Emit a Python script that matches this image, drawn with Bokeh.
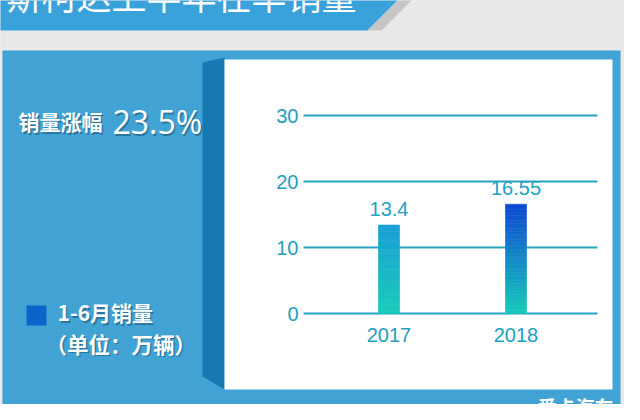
from bokeh.plotting import figure
from bokeh.models import Range1d, FixedTicker, BoxAnnotation, PolyAnnotation, Label, LinearAxis
from bokeh.core.properties import value
from bokeh.embed import file_html
from bokeh.resources import INLINE

# ---- data ----
years = ["2017", "2018"]
sales = [13.4, 16.55]
y_ticks = [0, 10, 20, 30]
title_text = "斯柯达上半年在华销量"
growth_label = "销量涨幅"
growth_value = "23.5%"
legend_label = "1-6月销量"
unit_label = "（单位：万辆）"
brand = "爱卡汽车"

# ---- layout (page pixels) ----
W, H = 624, 404
OFF = 8
FL, FR, FT, FB = OFF, OFF + W, OFF, OFF + H   # frame covers the whole figure
Y0 = 321        # page y of value 0
PXU = 6.6       # px per unit of value
X0 = 396.5      # page x of first year
PXX = 127.0     # px per year
GL, GR = 311, 605   # chart gridline extent (page x)

xs = [int(y) for y in years]
x_start = xs[0] - (X0 - FL) / PXX
x_end = x_start + (FR - FL) / PXX
y_start = -(FB - Y0) / PXU
y_end = (Y0 - FT) / PXU


def dx(px):
    return x_start + (px - FL) / PXX


def dy(py):
    return (Y0 - py) / PXU


p = figure(width=W, height=H, output_backend="svg", toolbar_location=None, title=None,
           x_range=Range1d(x_start, x_end), y_range=Range1d(y_start, y_end),
           x_axis_location=None, y_axis_location=None, min_border=0,
           background_fill_color="#e4e4e4", border_fill_color="#e4e4e4",
           outline_line_color=None)
p.grid.visible = False

# ---- decorations ----
p.add_layout(BoxAnnotation(left=dx(0), right=dx(640), top=dy(0), bottom=dy(420),
                           fill_color="#e4e4e4", fill_alpha=1, line_color=None,
                           hatch_pattern="/", hatch_color="#ffffff", hatch_alpha=0.35,
                           hatch_scale=4, hatch_weight=1, level="image"))
p.add_layout(PolyAnnotation(xs=[dx(0), dx(413), dx(375), dx(0)],
                            ys=[dy(0), dy(0), dy(38), dy(38)],
                            fill_color="#3aa2da", fill_alpha=1, line_color=None, level="image"))
p.add_layout(PolyAnnotation(xs=[dx(413), dx(427), dx(389), dx(375)],
                            ys=[dy(0), dy(0), dy(38), dy(38)],
                            fill_color="#c6c6c6", fill_alpha=1, line_color=None, level="image"))
p.add_layout(BoxAnnotation(left=dx(10), right=dx(628), top=dy(58), bottom=dy(412),
                           fill_color="#3a9fd2", fill_alpha=1, line_color=None,
                           hatch_pattern="/", hatch_color="#5fb3de", hatch_alpha=0.4,
                           hatch_scale=4, hatch_weight=1, level="image"))
p.add_layout(PolyAnnotation(xs=[dx(210), dx(232), dx(232), dx(210)],
                            ys=[dy(70), dy(65), dy(397), dy(384)],
                            fill_color="#1679b2", fill_alpha=1, line_color=None, level="image"))
p.add_layout(BoxAnnotation(left=dx(232), right=dx(620), top=dy(67), bottom=dy(397),
                           fill_color="#ffffff", fill_alpha=1, line_color=None, level="image"))

# ---- gridlines ----
p.segment(x0=dx(GL), x1=dx(GR), y0=y_ticks, y1=y_ticks, line_color="#27a3c4", line_width=2.2)

# ---- bars with vertical gradient ----
bottom_color = (0x16, 0xcb, 0xb9)
top_colors = [(0x1a, 0x9e, 0xd6), (0x0e, 0x48, 0xd2)]
N = 40


def mix(c1, c2, t):
    return "#%02x%02x%02x" % tuple(int(round(a + (b - a) * t)) for a, b in zip(c1, c2))


bx, bb, bt, bc = [], [], [], []
for x, v, ct in zip(xs, sales, top_colors):
    for k in range(N):
        bx.append(x)
        bb.append(v * k / N)
        bt.append(v * (k + 1) / N)
        bc.append(mix(bottom_color, ct, (k + 0.5) / N))
p.vbar(x=bx, bottom=bb, top=bt, width=21 / PXX, fill_color=bc, line_color=bc, line_width=0.6)

p.text(x=xs, y=sales, text=[f"{v:g}" for v in sales], y_offset=-16,
       text_align="center", text_baseline="middle", text_color="#22a2c4",
       text_font=value("Liberation Sans"), text_font_size="20px")

# ---- axes (fixed inside the frame) ----
yaxis = LinearAxis(fixed_location=dx(GL), ticker=FixedTicker(ticks=y_ticks))
xaxis = LinearAxis(fixed_location=0, ticker=FixedTicker(ticks=xs),
                   major_label_overrides={x: y for x, y in zip(xs, years)})
for ax in (xaxis, yaxis):
    ax.axis_line_color = None
    ax.major_tick_line_color = None
    ax.minor_tick_line_color = None
    ax.major_tick_out = 0
    ax.major_tick_in = 0
    ax.major_label_text_font_size = "20px"
    ax.major_label_text_color = "#22a0c0"
    ax.major_label_text_font = "Liberation Sans"
yaxis.major_label_standoff = 5
xaxis.major_label_standoff = 14
p.add_layout(yaxis, "left")
p.add_layout(xaxis, "below")

# ---- texts ----
CJK = "Noto Sans CJK SC"


def add_text(px, py, text, size, font=CJK, style="bold", align="left",
             color="white", shadow=True):
    if shadow:
        p.add_layout(Label(x=dx(px + 1.5), y=dy(py + 1.5), text=text, text_font=font,
                           text_font_size=size, text_font_style=style, text_color="#1b4f6e",
                           text_alpha=0.55, text_baseline="middle", text_align=align))
    p.add_layout(Label(x=dx(px), y=dy(py), text=text, text_font=font,
                       text_font_size=size, text_font_style=style, text_color=color,
                       text_baseline="middle", text_align=align))


add_text(14, 1.5, title_text, "35px", style="normal", shadow=False)
add_text(26, 128.5, growth_label, "21px")
add_text(120, 129, growth_value, "32px", font="Open Sans", style="normal")

p.add_layout(BoxAnnotation(left=dx(34), right=dx(54), top=dy(313), bottom=dy(333),
                           fill_color="#0a64c9", fill_alpha=1, line_color=None))
add_text(65, 319.5, legend_label, "21px")
add_text(53, 350.5, unit_label, "21.5px")
add_text(545, 414, brand, "19px", shadow=False)

open("out.html", "w").write(file_html(p, INLINE))
